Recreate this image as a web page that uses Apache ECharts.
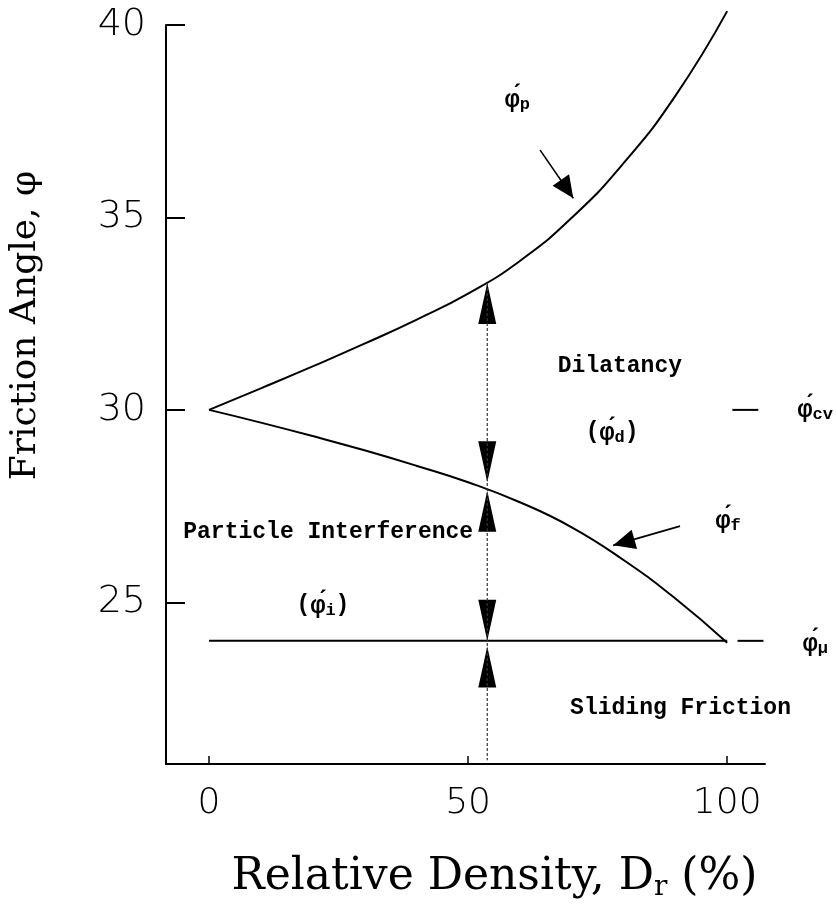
<!DOCTYPE html>
<html>
<head>
<meta charset="utf-8">
<title>Friction Angle vs Relative Density</title>
<script src="https://cdn.jsdelivr.net/npm/echarts@6/dist/echarts.min.js"></script>
</head>
<body style="margin:0;padding:0;background:#fff">
<div id="main" style="width:836px;height:913px;"></div>
<script type="text/javascript">
var chart = echarts.init(document.getElementById('main'));

// values: relative density Dr (%) vs friction angle (deg)
var peakX = [0, 10, 20, 30, 40, 50, 60, 70, 80, 90, 100];
var peakY = [30, 30.56, 31.13, 31.72, 32.34, 33.02, 33.87, 34.99, 36.41, 38.16, 40.36];
var fricX = [0, 10, 20, 30, 40, 50, 60, 70, 80, 90, 100];
var fricY = [30, 29.67, 29.32, 28.95, 28.55, 28.12, 27.6, 26.95, 26.1, 25.1, 23.95];
var muX = [0, 100];
var muY = [24, 24];
var cvDashX = [101, 106];
var muDashX = [102, 107];
var phiCv = 30;

// the vertical measuring line with its arrow tips
var drMark = 53.7;
var markLineY = [33.3, 20.9];
var upTips = [33.3, 27.9, 23.85];
var downTips = [28.12, 24.0];

// pointer arrows (start, tip)
var pPointer = [[63.9, 36.75], [70.3, 35.5]];
var fPointer = [[90.9, 26.98], [78.0, 26.48]];

var xTicks = [0, 50, 100];
var yTicks = [25, 30, 35, 40];

// annotation text and its anchor (data coords)
var labelText = ['{g|φ́}{s|p}', 'Dilatancy', '({g|φ́}{s|d})', '{g|φ́}{s|cv}', '{g|φ́}{s|f}',
  'Particle Interference', '({g|φ́}{s|i})', '{g|φ́}{s|μ}', 'Sliding Friction'];
var labelX = [59.5, 79.3, 77.8, 117, 100.2, 23, 22, 117, 91];
var labelY = [38.05, 31.13, 29.42, 30, 27.13, 26.82, 24.92, 23.93, 22.24];

function zip(xs, ys) {
  return xs.map(function (x, i) { return [x, ys[i]]; });
}

var ink = '#000';
var mono = 'Liberation Mono';

function curve(data, extra) {
  var s = {
    type: 'line',
    data: data,
    symbol: 'none',
    clip: false,
    silent: true,
    lineStyle: { color: ink, width: 2 }
  };
  for (var k in extra) s[k] = extra[k];
  return s;
}

var arrowHeads = [];
upTips.forEach(function (y) {
  arrowHeads.push({ value: [drMark, y], symbolSize: [18, 41], symbolRotate: 0, symbolOffset: [0, 20.5] });
});
downTips.forEach(function (y) {
  arrowHeads.push({ value: [drMark, y], symbolSize: [18, 41], symbolRotate: 180, symbolOffset: [0, -20.5] });
});
arrowHeads.push({ value: pPointer[1], symbolSize: [20, 22], symbolRotate: -145.5, symbolOffset: [-6.2, -9.1] });
arrowHeads.push({ value: fPointer[1], symbolSize: [20, 22], symbolRotate: 105.8, symbolOffset: [10.6, -3.0] });

var labels = labelText.map(function (t, i) {
  return { value: [labelX[i], labelY[i]], name: t };
});

var option = {
  backgroundColor: '#fff',
  animation: false,
  grid: { left: 166, right: 71, top: 25, bottom: 149, outerBoundsMode: 'none' },
  xAxis: {
    type: 'value',
    min: -8.3,
    max: 107.3,
    name: 'Relative Density, D{s|r} (%)',
    nameLocation: 'middle',
    nameGap: 90,
    nameTextStyle: {
      fontFamily: 'DejaVu Serif', fontSize: 44, color: ink, padding: [0, 0, 0, 58],
      rich: { s: { fontFamily: 'DejaVu Serif', fontSize: 28, color: ink, verticalAlign: 'bottom', padding: [20, 0, 0, 0] } }
    },
    axisLine: { onZero: false, lineStyle: { color: ink, width: 2 } },
    axisTick: { inside: true, length: 8, customValues: xTicks, lineStyle: { color: ink, width: 1.5 } },
    axisLabel: { customValues: xTicks, margin: 22, fontFamily: 'DejaVu Sans', fontWeight: 200, fontSize: 36, color: ink },
    splitLine: { show: false }
  },
  yAxis: {
    type: 'value',
    min: 20.8,
    max: 40,
    name: 'Friction Angle, φ',
    nameLocation: 'middle',
    nameRotate: 90,
    nameGap: 122,
    nameTextStyle: { fontFamily: 'DejaVu Serif', fontSize: 36, color: ink, padding: [0, 0, 0, 138] },
    axisLine: { onZero: false, lineStyle: { color: ink, width: 2 } },
    axisTick: { inside: true, length: 19, customValues: yTicks, lineStyle: { color: ink, width: 2 } },
    axisLabel: { customValues: yTicks, margin: 20, fontFamily: 'DejaVu Sans', fontWeight: 200, fontSize: 38, color: ink },
    splitLine: { show: false }
  },
  series: [
    curve(zip(peakX, peakY), { smooth: 0.5 }),
    curve(zip(fricX, fricY), { smooth: 0.5 }),
    curve(zip(muX, muY)),
    curve(zip(cvDashX, [phiCv, phiCv])),
    curve(zip(muDashX, [muY[0], muY[0]])),
    curve(zip([drMark, drMark], markLineY), { lineStyle: { color: '#333', width: 1.2, type: [3, 2] } }),
    curve(pPointer, { lineStyle: { color: ink, width: 1.6 } }),
    curve(fPointer, { lineStyle: { color: ink, width: 1.6 } }),
    {
      type: 'scatter',
      data: arrowHeads,
      symbol: 'triangle',
      clip: false,
      silent: true,
      itemStyle: { color: ink, opacity: 1 }
    },
    {
      type: 'scatter',
      data: labels,
      symbolSize: 0,
      clip: false,
      silent: true,
      itemStyle: { opacity: 1 },
      label: {
        show: true,
        position: 'inside',
        formatter: function (p) { return p.name; },
        fontFamily: mono,
        fontWeight: 'bold',
        fontSize: 23,
        color: ink,
        rich: {
          g: { fontFamily: mono, fontWeight: 'bold', fontSize: 25, color: ink, verticalAlign: 'bottom' },
          s: { fontFamily: mono, fontWeight: 'bold', fontSize: 17, color: ink, verticalAlign: 'bottom', padding: [10, 0, 0, 0] }
        }
      }
    }
  ]
};

chart.setOption(option);
</script>
</body>
</html>
